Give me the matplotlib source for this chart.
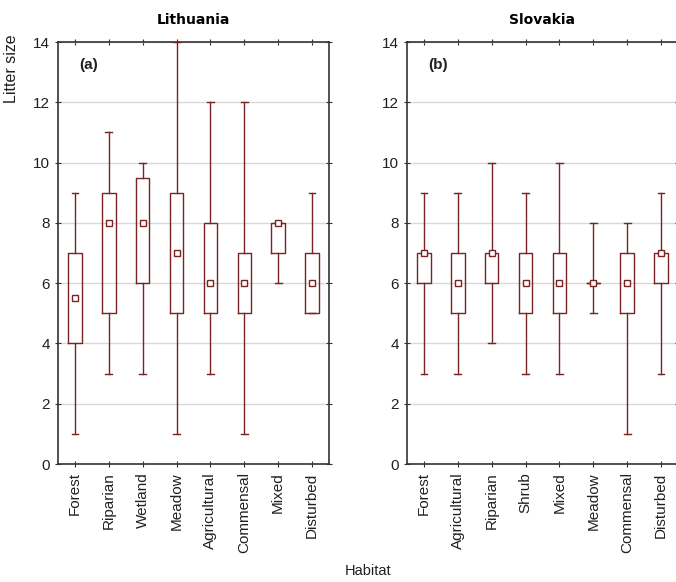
import matplotlib
matplotlib.use("Agg")
import matplotlib.pyplot as plt

# Lithuania
lt_cats = ["Forest", "Riparian", "Wetland", "Meadow", "Agricultural", "Commensal", "Mixed", "Disturbed"]
lt_med = [5.5, 8, 8, 7, 6, 6, 8, 6]
lt_q1 = [4, 5, 6, 5, 5, 5, 7, 5]
lt_q3 = [7, 9, 9.5, 9, 8, 7, 8, 7]
lt_min = [1, 3, 3, 1, 3, 1, 6, 5]
lt_max = [9, 11, 10, 14, 12, 12, 8, 9]

# Slovakia
sk_cats = ["Forest", "Agricultural", "Riparian", "Shrub", "Mixed", "Meadow", "Commensal", "Disturbed"]
sk_med = [7, 6, 7, 6, 6, 6, 6, 7]
sk_q1 = [6, 5, 6, 5, 5, 6, 5, 6]
sk_q3 = [7, 7, 7, 7, 7, 6, 7, 7]
sk_min = [3, 3, 4, 3, 3, 5, 1, 3]
sk_max = [9, 9, 10, 9, 10, 8, 8, 9]

yticks = [0, 2, 4, 6, 8, 10, 12, 14]

plt.rcParams['font.family'] = ['Liberation Sans', 'DejaVu Sans']
col = '#7a2323'
spine_col = '#333333'

fig = plt.figure(figsize=(6.76, 5.82), dpi=100)
ax1 = fig.add_axes([58/676, 1-464/582, 271/676, 422/582])
ax2 = fig.add_axes([407/676, 1-464/582, 271/676, 422/582])


def draw(ax, cats, med, q1, q3, lo, hi, title, tag):
    pos = list(range(1, len(cats) + 1))
    stats = []
    for i in range(len(cats)):
        stats.append(dict(med=med[i], q1=q1[i], q3=q3[i], whislo=lo[i], whishi=hi[i], fliers=[]))
    ax.bxp(stats, positions=pos, widths=0.4, showfliers=False,
           boxprops=dict(color=col, linewidth=1.0),
           whiskerprops=dict(color=col, linewidth=1.0),
           capprops=dict(color=col, linewidth=1.0),
           medianprops=dict(linewidth=0),
           capwidths=0.2, zorder=3)
    ax.plot(pos, med, 's', ms=5, mfc='white', mec=col, mew=1.0, zorder=4, ls='none')
    ax.set_xlim(0.5, len(cats) + 0.5)
    ax.set_ylim(0, 14)
    ax.set_yticks(yticks)
    ax.set_xticks(pos)
    ax.set_xticklabels(cats, rotation=90, fontsize=11, color='#202020')
    ax.tick_params(axis='y', labelsize=11, labelcolor='#202020')
    ax.grid(axis='y', color='#d8d8d8', linewidth=1.0, zorder=0)
    ax.set_axisbelow(True)
    ax.tick_params(top=True, right=True, direction='inout', length=5, color=spine_col, width=0.8)
    for s in ax.spines.values():
        s.set_color(spine_col)
        s.set_linewidth(1.2)
    ax.set_title(title, fontsize=10, fontweight='bold', family=['DejaVu Sans'], pad=13)
    ax.text(0.08, 0.945, tag, transform=ax.transAxes, fontsize=11, fontweight='bold',
            va='center', ha='left', color='#202020')


draw(ax1, lt_cats, lt_med, lt_q1, lt_q3, lt_min, lt_max, "Lithuania", "(a)")
draw(ax2, sk_cats, sk_med, sk_q1, sk_q3, sk_min, sk_max, "Slovakia", "(b)")

fig.text(12/676, 1-69/582, "Litter size", rotation=90, va='center', ha='center', fontsize=11.5, color='#202020')
fig.text(368/676, 1-571/582, "Habitat", va='center', ha='center', fontsize=10.5, color='#202020')

fig.savefig("out.png", dpi=100)
